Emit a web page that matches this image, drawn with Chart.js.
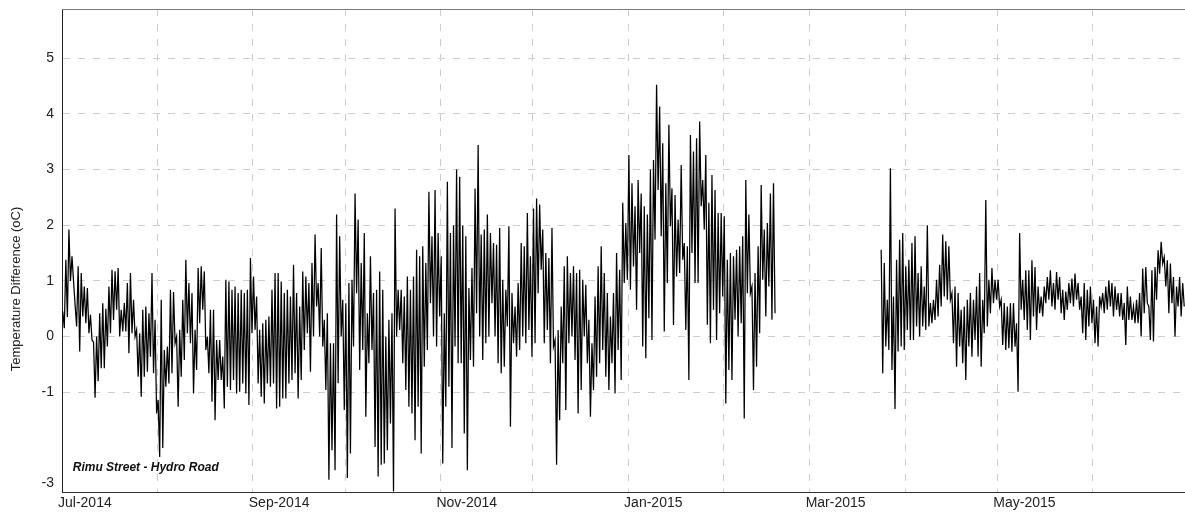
<!DOCTYPE html>
<html>
<head>
<meta charset="utf-8">
<script src="https://cdn.jsdelivr.net/npm/chart.js@4.4.1/dist/chart.umd.min.js"></script>
<style>
html,body{margin:0;padding:0;background:#fff;}
#wrap{width:1185px;height:513px;position:relative;}
</style>
</head>
<body>
<div id="wrap"><canvas id="c" width="1185" height="513"></canvas></div>
<script>
// ---- Data (days counted from 1 Jul 2014) ----
const monthStartDays = [0,31,62,92,123,153,184,215,243,274,304,335,365];
const monthLabels = ['Jul-2014','','Sep-2014','','Nov-2014','','Jan-2015','','Mar-2015','','May-2015','',''];
const yTickValues = [-1,0,1,2,3,4,5];
const yBottomLabel = '-3';
const yBottomLabelValue = -2.635;
const yMin = -2.79;
const yMax = 5.88;
const xMin = 0;
const xMax = 365;
const axisTitle = 'Temperature Difference (oC)';
const siteLabel = 'Rimu Street - Hydro Road';
const siteLabelDay = 3.5;
const siteLabelValue = -2.41;

// Segment 1: 1 Jul 2014 - 17 Feb 2015 (daily high / low)
const seg1Start = 0;
const seg1High = [
 0.45,1.38,1.92,1.44,0.57,1.26,1.14,0.9,0.87,0.39,
 -0.1,0,0.42,0.6,0.5,0.9,1.2,1.17,1.23,0.48,
 0.6,0.96,1.14,0.66,0.12,0.06,0.48,0.54,0.42,1.14,
 0.3,-1.14,0.66,-0.24,-0.18,0.84,0.8,0,0.12,0.66,
 1.38,0.96,0.78,0.12,1.23,1.26,1.17,0,0.48,0.48,
 -0.06,-0.06,-0.36,1.02,0.99,0.84,0.9,0.78,0.84,0.78,
 0.84,1.41,
 1.08,0.72,0.12,0.24,0.3,0.36,0.84,1.14,1.14,0.99,
 0.78,0.84,0.72,1.29,0.78,0.54,1.17,1.08,0.96,1.32,
 1.83,0.96,1.59,0.3,0.42,-0.12,-0.12,2.19,1.8,0.66,
 0.6,0.96,1.02,2.57,2.1,1.32,1.86,0.42,1.44,0.78,
 0.84,1.17,0.84,0,0.3,0.42,2.3,0.84,0.84,0.72,
 1.08,0.84,1.08,1.56,1.44,1.62,1.32,2.6,1.8,2.63,
 1.86,
 1.44,0.42,2.78,1.86,2.0,3.0,2.87,2.0,1.8,0.87,
 1.23,2.66,3.44,1.83,1.92,2.19,1.86,1.68,1.65,1.95,
 1.02,0.84,1.98,0.78,0.54,0.96,1.68,1.62,2.22,1.44,
 2.3,2.48,2.37,1.92,1.5,1.41,1.95,-0.06,0.12,0.54,
 1.26,1.44,1.14,1.26,1.14,1.2,1.02,0.93,0.3,-0.12,
 0.72,1.26,1.62,1.14,0.78,0.36,0.78,1.5,1.2,2.4,
 2.04,3.26,
 2.75,2.34,2.81,2.57,2.34,2.19,3.0,3.17,4.52,4.13,
 3.47,2.75,3.8,2.66,2.54,2.1,3.08,1.68,1.62,3.62,
 3.32,3.56,3.86,2.81,3.26,2.4,2.9,2.63,2.22,2.22,
 2.16,1.38,1.5,1.44,1.56,1.62,1.8,2.81,2.19,0.9,
 1.14,1.62,2.72,1.92,2.04,2.57,2.75
];
const seg1Low = [
 0.15,0.35,1.0,1.0,0.18,-0.27,0.36,0.24,0.06,-0.06,
 -1.1,-0.8,-0.57,-0.57,-0.18,0.06,0.3,0.48,0,0.09,
 0.09,-0.3,0.06,0,-0.72,-1.08,-0.72,-0.63,-0.36,-0.66,
 -1.38,-2.16,-2.0,-0.9,-0.84,-0.66,-0.12,-1.26,-0.72,-0.42,
 0.06,-0.12,-1.02,-0.6,0.24,0.48,-0.24,-0.66,-1.17,-1.5,
 -0.78,-0.78,-1.29,-0.9,-0.96,-0.78,-1.02,-0.99,-0.84,-1.02,
 -1.23,0.06,
 0.12,-0.84,-1.08,-1.2,-0.84,-0.9,-0.84,-1.29,-1.26,-1.11,
 -1.11,-0.84,-0.78,-0.66,-1.11,-0.78,-0.24,0.06,-0.63,0,
 0.54,0,-0.18,-0.96,-2.57,-2.04,-2.4,-0.84,0,-1.32,
 -2.54,-2.1,-0.18,0.78,-0.6,-0.24,-1.44,-0.48,-0.24,-1.98,
 -2.51,-2.3,-2.28,-2.04,-1.56,-2.78,0,0.12,-0.48,-0.96,
 -1.26,-1.38,-1.86,-1.26,-2.1,-0.54,-0.24,0.6,0,-0.18,
 0.36,
 -2.28,-1.26,-0.9,-2.0,-0.18,-0.48,-0.48,-1.74,-2.4,-0.42,
 -0.54,0.42,0,-0.42,-0.12,0,0.6,0,-0.48,-0.66,
 -0.54,0.18,-1.62,-0.12,-0.36,-0.24,0,-0.12,0.12,-0.36,
 -0.12,0.78,1.2,-0.12,0.12,-0.48,-0.18,-2.3,-1.5,-0.48,
 -1.32,-0.12,0,-0.42,-1.38,-0.96,0,-0.48,-1.44,-0.96,
 -0.72,-0.48,-0.24,-0.72,-0.96,-0.48,-1.02,-0.24,-0.78,0.96,
 1.02,0.84,
 1.26,0.48,1.5,-0.18,-0.39,0.33,-0.06,1.74,2.63,1.8,
 0.09,0.96,1.98,0.21,1.08,1.14,1.38,0.12,-0.78,1.5,
 0.96,0.96,2.34,1.92,0.21,-0.12,0.48,-0.06,0.42,0.72,
 -1.2,-0.6,-0.78,0.3,0,0.24,-1.47,0.78,0.78,-0.96,
 -0.54,0.06,1.02,0.36,0.9,0.3,0.42
];

// Segment 2: 24 Mar 2015 - 30 Jun 2015 (daily high / low)
const seg2Start = 266;
const seg2High = [
 1.56,1.32,0.66,3.02,0.72,1.38,1.74,1.86,1.26,1.38,
 1.68,1.8,1.14,1.26,0.9,2.0,0.6,0.66,1.02,1.29,
 1.83,1.71,1.62,0.78,0.9,0.78,0.48,0.54,0.66,0.78,
 0.66,0.9,1.14,0.66,2.45,1.02,1.23,1.02,1.02,0.66,
 0.6,0.54,0.6,0.6,0.24,1.86,1.02,
 1.19,1.19,1.37,1.25,0.9,0.72,0.9,1.07,1.19,0.96,
 1.16,1.07,0.84,0.81,0.96,1.04,1.13,0.96,0.72,0.96,
 0.84,0.9,0.66,0.54,0.72,0.78,0.9,1.01,0.96,0.9,
 0.78,0.78,0.6,0.9,0.72,0.54,0.66,0.78,1.22,1.25,
 0.54,1.19,1.25,1.55,1.7,1.43,1.37,1.31,1.07,0.9,
 1.07,0.96
];
const seg2Low = [
 -0.66,-0.18,-0.24,-0.6,-1.3,-0.27,-0.18,-0.24,0.12,-0.06,
 -0.06,0.18,0,0.18,0.12,0.18,0.24,0.3,0.36,0.54,
 0.72,0.66,0.66,-0.12,-0.54,-0.18,-0.48,-0.78,-0.18,-0.36,
 -0.06,-0.36,-0.54,0.06,0.18,0.42,0.6,0.66,0.54,-0.15,
 -0.24,-0.21,-0.27,-0.18,-0.99,0.48,0.3,
 0.12,-0.06,0.36,0.12,0.42,0.36,0.6,0.66,0.54,0.48,
 0.66,0.42,0.3,0.48,0.6,0.54,0.66,0.48,0.06,-0.06,
 0.18,0.24,-0.12,-0.18,0.54,0.42,0.48,0.54,0.36,0.48,
 0.36,0.3,-0.15,0.3,0.3,0.24,0.24,0,0.42,0.6,
 -0.06,-0.09,0.66,1.13,1.31,0.9,0.42,0.6,0,0.54,
 0.36,0.54
];

// ---- Build series ----
function buildPoints(start, highs, lows) {
  const pts = [];
  for (let i = 0; i < highs.length; i++) {
    pts.push({x: start + i + 0.25, y: highs[i]});
    pts.push({x: start + i + 0.75, y: lows[i]});
  }
  return pts;
}

const FONT = 'Arial, "Liberation Sans", sans-serif';

const overlayPlugin = {
  id: 'overlay',
  afterDraw(chart) {
    const {ctx, chartArea, scales} = chart;
    ctx.save();
    // top frame line
    ctx.strokeStyle = '#7a7a7a';
    ctx.lineWidth = 1;
    ctx.beginPath();
    ctx.moveTo(chartArea.left, Math.round(chartArea.top) + 0.5);
    ctx.lineTo(chartArea.right, Math.round(chartArea.top) + 0.5);
    ctx.stroke();
    // site label
    ctx.fillStyle = '#111';
    ctx.font = 'italic bold 12px ' + FONT;
    ctx.textAlign = 'left';
    ctx.textBaseline = 'alphabetic';
    ctx.fillText(siteLabel, scales.x.getPixelForValue(siteLabelDay), scales.y.getPixelForValue(siteLabelValue));
    // y axis title
    ctx.translate(16, 289);
    ctx.rotate(-Math.PI / 2);
    ctx.font = '13px ' + FONT;
    ctx.textAlign = 'center';
    ctx.textBaseline = 'middle';
    ctx.fillStyle = '#222';
    ctx.fillText(axisTitle, 0, 0);
    ctx.restore();
  }
};

const gridColor = '#cdcdcd';

new Chart(document.getElementById('c'), {
  type: 'line',
  data: {
    datasets: [
      {data: buildPoints(seg1Start, seg1High, seg1Low), borderColor: '#000', borderWidth: 1.25, pointRadius: 0, tension: 0, fill: false},
      {data: buildPoints(seg2Start, seg2High, seg2Low), borderColor: '#000', borderWidth: 1.25, pointRadius: 0, tension: 0, fill: false}
    ]
  },
  options: {
    responsive: false,
    animation: false,
    devicePixelRatio: 1,
    layout: {padding: {top: 9, left: 0, right: 0, bottom: 0}},
    plugins: {legend: {display: false}, tooltip: {enabled: false}},
    scales: {
      x: {
        type: 'linear',
        min: xMin,
        max: xMax,
        afterBuildTicks(scale) { scale.ticks = monthStartDays.map(v => ({value: v})); },
        afterFit(scale) { scale.height = 21; scale.paddingLeft = 0; scale.paddingRight = 0; },
        ticks: {
          autoSkip: false,
          maxRotation: 0,
          align: 'start',
          labelOffset: -4,
          padding: 3,
          color: '#222',
          font: {family: FONT, size: 14},
          callback(value) { const i = monthStartDays.indexOf(value); return i >= 0 ? monthLabels[i] : ''; }
        },
        grid: {
          drawTicks: false,
          lineWidth: 1,
          color(ctx) { const v = ctx.tick ? ctx.tick.value : null; return (v === xMin || v === xMax) ? 'rgba(0,0,0,0)' : gridColor; }
        },
        border: {display: true, color: '#333', width: 1, dash: [7, 8]}
      },
      y: {
        type: 'linear',
        min: yMin,
        max: yMax,
        afterBuildTicks(scale) { scale.ticks = [yBottomLabelValue].concat(yTickValues).map(v => ({value: v})); },
        afterFit(scale) { scale.width = 62; scale.paddingTop = 0; scale.paddingBottom = 0; },
        ticks: {
          autoSkip: false,
          padding: 8,
          color: '#222',
          font: {family: FONT, size: 14},
          callback(value) { return value === yBottomLabelValue ? yBottomLabel : String(value); }
        },
        grid: {
          drawTicks: false,
          lineWidth: 1,
          color(ctx) { const v = ctx.tick ? ctx.tick.value : null; return v === yBottomLabelValue ? 'rgba(0,0,0,0)' : gridColor; }
        },
        border: {display: true, color: '#222', width: 1, dash: [7, 8]}
      }
    }
  },
  plugins: [overlayPlugin]
});
</script>
</body>
</html>
